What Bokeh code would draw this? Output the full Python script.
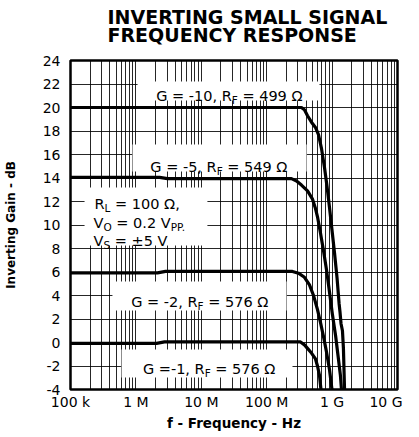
from bokeh.plotting import figure
from bokeh.models import Range1d, FixedTicker, BoxAnnotation, Label, Title
from bokeh.embed import file_html
from bokeh.resources import INLINE

# ---------------- data ----------------
g1_freq = [1e5, 2.07e6, 2.74e6, 3.29e8, 3.78e8, 4.21e8, 4.84e8, 5.57e8, 5.98e8, 6.41e8, 6.76e8, 6.9e8]
g1_gain = [-0.08, -0.08, 0.05, 0.05, -0.2, -0.5, -0.9, -1.4, -2.0, -2.8, -4.0, -4.6]

g2_freq = [1e5, 2.14e6, 2.84e6, 2.48e8, 3.06e8, 3.78e8, 4.51e8, 5.20e8, 5.98e8, 6.65e8, 7.39e8, 8.21e8, 9.12e8, 9.95e8, 1.02e9]
g2_gain = [5.92, 5.92, 6.05, 6.05, 5.9, 5.55, 4.9, 4.0, 2.8, 1.7, 0.5, -0.8, -2.3, -4.0, -4.6]

g5_freq = [1e5, 2.30e6, 3.04e6, 2.39e8, 2.86e8, 3.40e8, 4.21e8, 5.02e8, 5.57e8, 5.98e8, 6.65e8, 7.39e8, 8.21e8, 9.12e8, 1.01e9, 1.13e9, 1.25e9, 1.34e9, 1.39e9, 1.41e9]
g5_gain = [14.05, 14.05, 13.95, 13.95, 13.75, 13.4, 12.9, 12.2, 11.4, 10.7, 9.3, 7.8, 6.2, 4.3, 2.4, 0.6, -1.4, -2.8, -4.0, -4.6]

g10_freq = [1e5, 3.40e8, 3.78e8, 4.21e8, 4.84e8, 5.57e8, 6.19e8, 6.89e8, 7.65e8, 8.36e8, 9.12e8, 9.95e8, 1.09e9, 1.19e9, 1.28e9, 1.32e9, 1.37e9, 1.44e9, 1.49e9, 1.55e9, 1.57e9]
g10_gain = [20.0, 20.0, 19.8, 19.3, 18.75, 18.3, 17.7, 16.5, 14.9, 13.3, 11.5, 9.6, 7.6, 5.5, 3.3, 2.6, 1.6, 1.0, -0.5, -4.0, -4.6]

x_ticks = [1e5, 1e6, 1e7, 1e8, 1e9, 1e10]
x_tick_labels = ["100 k", "1 M", "10 M", "100 M", "1 G", "10 G"]
y_ticks = [-4, -2, 0, 2, 4, 6, 8, 10, 12, 14, 16, 18, 20, 22, 24]
y_tick_labels = ["-4", "-2", "0", "2", "4", "6", "8", "10", "12", "14", "16", "18", "20", "22", "24"]

title_lines = ["INVERTING SMALL SIGNAL", "FREQUENCY RESPONSE"]
x_title = "f - Frequency - Hz"
y_title = "Inverting Gain - dB"

# ---------------- styling ----------------
FONT = "DejaVu Sans"
MAIN = 14.5
SUB = 10.5
SUB_DROP = 4

# DejaVu Sans advance widths (em)
W = {" ": 0.318, "=": 0.838, "-": 0.361, ",": 0.318, ".": 0.318, "±": 0.838,
     "G": 0.776, "R": 0.695, "F": 0.575, "L": 0.557, "V": 0.684, "O": 0.787,
     "S": 0.635, "P": 0.603, "Ω": 0.764}
for d in "0123456789":
    W[d] = 0.636


def text_width(s, size):
    return sum(W.get(c, 0.6) for c in s) * size


p = figure(x_axis_type="log", output_backend="svg", toolbar_location=None,
           frame_width=327, frame_height=329,
           x_range=Range1d(1e5, 1e10), y_range=Range1d(-4, 24))
p.background_fill_color = "white"
p.border_fill_color = "white"
p.outline_line_color = "black"
p.outline_line_width = 2.5

xa = p.below[0]
ya = p.left[0]

# two-line title
p.title.text = "\n".join(title_lines)
p.title.align = "left"
p.title.offset = 37
p.title.standoff = 10
p.title.vertical_align = "top"
p.title.text_line_height = 0.83
p.title.text_font = FONT
p.title.text_font_style = "bold"
p.title.text_font_size = "19px"
p.title.text_color = "black"

# blank gap between the title and the frame
p.add_layout(Title(text=" ", text_font_size="4px", standoff=1), "above")

minor = [k * 10 ** e for e in range(5, 10) for k in range(2, 10)]
xa.ticker = FixedTicker(ticks=x_ticks, minor_ticks=minor)
ya.ticker = FixedTicker(ticks=y_ticks)
xa.major_label_overrides = {t: l for t, l in zip(x_ticks, x_tick_labels)}
ya.major_label_overrides = {t: l for t, l in zip(y_ticks, y_tick_labels)}

for ax in (xa, ya):
    ax.axis_line_color = None
    ax.major_tick_line_color = None
    ax.minor_tick_line_color = None
    ax.major_label_text_font = FONT
    ax.major_label_text_font_size = "14px"
    ax.major_label_text_color = "black"
    ax.axis_label_text_font = FONT
    ax.axis_label_text_font_style = "bold"
    ax.axis_label_text_color = "black"

xa.axis_label = x_title
xa.axis_label_text_font_size = "13.5px"
xa.major_label_standoff = -2
xa.axis_label_standoff = 2
ya.axis_label = y_title
ya.axis_label_text_font_size = "12px"
ya.major_tick_out = 4
ya.major_label_standoff = 6
ya.axis_label_standoff = 22

p.xgrid.grid_line_color = "black"
p.xgrid.grid_line_alpha = 0.85
p.xgrid.minor_grid_line_color = "black"
p.xgrid.minor_grid_line_alpha = 0.85
p.ygrid.grid_line_color = "black"
p.ygrid.grid_line_alpha = 0.85

# white boxes behind the annotations (hide the grid)
boxes = [
    (1.06e6, 6.41e8, 20.6, 22.21),
    (8.87e5, 4.07e8, 14.55, 16.85),
    (1.64e5, 1.24e7, 8.26, 13.19),
    (4.38e5, 2.01e8, 2.72, 5.19),
    (6.03e5, 2.48e8, -2.98, -0.6),
]
for l, r, b, t in boxes:
    p.add_layout(BoxAnnotation(left=l, right=r, bottom=b, top=t, fill_color="white",
                               fill_alpha=1.0, line_color=None, level="underlay"))

for fx, gy in ((g1_freq, g1_gain), (g2_freq, g2_gain), (g5_freq, g5_gain), (g10_freq, g10_gain)):
    p.line(fx, gy, line_color="black", line_width=3.2, line_join="round")


def rich_label(x, y, parts):
    off = 0.0
    for txt, sub in parts:
        size = SUB if sub else MAIN
        stripped = txt.lstrip(" ")
        off += text_width(txt[: len(txt) - len(stripped)], size)
        p.add_layout(Label(x=x, y=y, x_offset=off, y_offset=-SUB_DROP if sub else 0,
                           text=stripped, text_font=FONT, text_font_size=f"{size}px",
                           text_color="black", text_align="left", text_baseline="alphabetic"))
        off += text_width(stripped, size)


rich_label(2.04e6, 21.02, [("G = -10, R", False), ("F", True), (" = 499 Ω", False)])
rich_label(1.66e6, 14.92, [("G = -5, R", False), ("F", True), (" = 549 Ω", False)])
rich_label(8.47e5, 3.43, [("G = -2, R", False), ("F", True), (" = 576 Ω", False)])
rich_label(1.28e6, -2.24, [("G =-1, R", False), ("F", True), (" = 576 Ω", False)])
rich_label(2.33e5, 11.80, [("R", False), ("L", True), (" = 100 Ω,", False)])
rich_label(2.25e5, 10.15, [("V", False), ("O", True), (" = 0.2 V", False), ("PP.", True)])
rich_label(2.25e5, 8.68, [("V", False), ("S", True), (" = ±5 V", False)])

open("out.html", "w").write(file_html(p, INLINE))
